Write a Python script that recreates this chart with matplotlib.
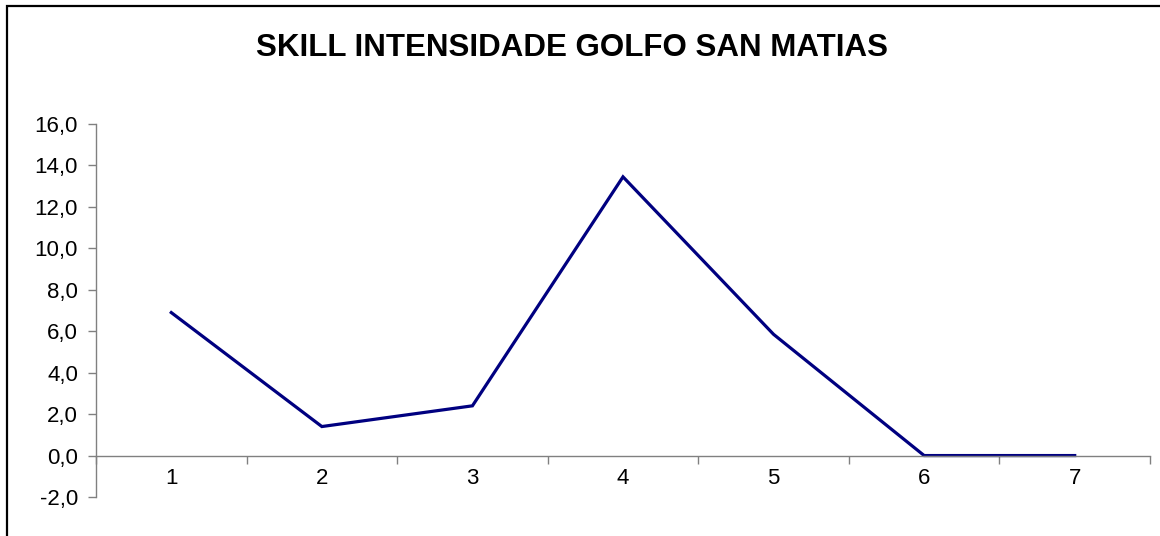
import matplotlib
matplotlib.use("Agg")
import matplotlib.pyplot as plt
from matplotlib.patches import Rectangle
from matplotlib.ticker import FuncFormatter, MultipleLocator

# data
categories = [1, 2, 3, 4, 5, 6, 7]
skill = [6.9, 1.4, 2.4, 13.45, 5.85, 0.0, 0.0]
y_ticks = [-2, 0, 2, 4, 6, 8, 10, 12, 14, 16]

plt.rcParams['font.family'] = ['Liberation Sans', 'DejaVu Sans']

fig = plt.figure(figsize=(11.6, 5.36), dpi=100)
ax = fig.add_axes([96 / 1160, 1 - 497 / 536, (1150 - 96) / 1160, (497 - 124) / 536])

ax.plot(categories, skill, color='#000080', linewidth=2.3, solid_joinstyle='miter')

ax.set_xlim(0.5, 7.5)
ax.set_ylim(-2, 16)

# excel style axes
grey = '#808080'
for s in ['top', 'right']:
    ax.spines[s].set_visible(False)
ax.spines['bottom'].set_position(('data', 0))
ax.spines['bottom'].set_color(grey)
ax.spines['left'].set_color(grey)
ax.spines['bottom'].set_linewidth(1)
ax.spines['left'].set_linewidth(1)

ax.set_yticks(y_ticks)
ax.yaxis.set_major_formatter(FuncFormatter(lambda v, p: f"{v:.1f}".replace('.', ',')))
ax.tick_params(axis='y', direction='out', length=6, width=1, color=grey,
               labelsize=16, pad=7, labelcolor='black')

ax.set_xticks(categories)
ax.set_xticklabels([str(c) for c in categories])
ax.xaxis.set_minor_locator(MultipleLocator(1, offset=0.5))
ax.tick_params(axis='x', which='major', length=0, labelsize=16, pad=9, labelcolor='black')
ax.tick_params(axis='x', which='minor', direction='out', length=5.5, width=1, color=grey)

fig.text(572 / 1160, 1 - 48 / 536, 'SKILL INTENSIDADE GOLFO SAN MATIAS',
         fontsize=22.5, fontweight='bold', ha='center', va='center')

# outer chart frame
fig.patches.append(Rectangle((7 / 1160, -0.1), 1.2, 1 - 5.5 / 536 + 0.1,
                             transform=fig.transFigure, fill=False,
                             edgecolor='black', linewidth=1.6))

fig.savefig('out.png', dpi=100)
